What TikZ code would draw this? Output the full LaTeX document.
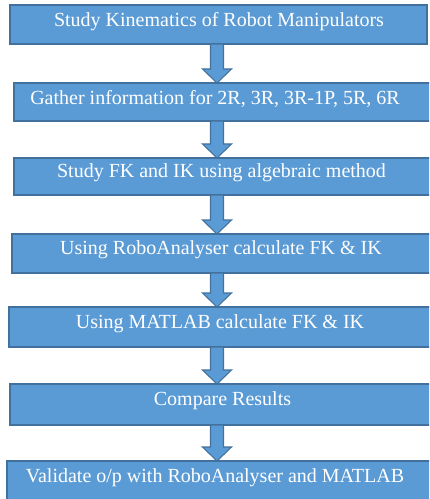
\documentclass[tikz,border=0pt]{standalone}
\usepackage{fontspec}
\setmainfont{Liberation Serif}
\usetikzlibrary{fit,calc}
\definecolor{boxfill}{HTML}{5B9BD5}
\definecolor{boxline}{HTML}{41719C}
\tikzset{
  box/.style={draw=boxline, fill=boxfill, line width=0.8pt, inner sep=0pt, outer sep=0pt},
  boxtext/.style={text=white, anchor=base, inner sep=0pt, font=\fontsize{15}{18}\selectfont},
  barrow/.style={draw=boxline, fill=boxfill, line width=0.8pt, line join=miter}
}
\newcommand{\blockarrow}[2]{%
  \draw[barrow] let \p1=($(#1.south -| ax)$), \p2=($(#2.north -| ax)$) in
    (\x1-4.875pt,\y1) -- (\x1-4.875pt,\y2+10.5pt) -- (\x1-10.875pt,\y2+10.5pt) -- (\x1,\y2)
    -- (\x1+10.875pt,\y2+10.5pt) -- (\x1+4.875pt,\y2+10.5pt) -- (\x1+4.875pt,\y1) -- cycle;}
\begin{document}
\begin{tikzpicture}[x=0.75pt,y=-0.75pt]
\useasboundingbox (0,0) rectangle (429,499);
\clip (0,0) rectangle (429,499);
\fill[white] (0,0) rectangle (429,499);
\coordinate (ax) at (217,0);
\node[box, fit={(10,5) (427,44)}] (b1) {};
\node[box, fit={(14,83) (432,121)}] (b2) {};
\node[box, fit={(14,158) (432,195)}] (b3) {};
\node[box, fit={(12,234) (432,273)}] (b4) {};
\node[box, fit={(9,307) (432,347)}] (b5) {};
\node[box, fit={(10,384) (432,425)}] (b6) {};
\node[box, fit={(7,461) (432,505)}] (b7) {};
\node[boxtext] (t1) at (219,27) {Study Kinematics of Robot Manipulators};
\node[boxtext] (t2) at (215,105) {Gather information for 2R, 3R, 3R-1P, 5R, 6R};
\node[boxtext] (t3) at (221.5,177) {Study FK and IK using algebraic method};
\node[boxtext] (t4) at (221,254) {Using RoboAnalyser calculate FK \& IK};
\node[boxtext] (t5) at (220,328) {Using MATLAB calculate FK \& IK};
\node[boxtext] (t6) at (222.5,405) {Compare Results};
\node[boxtext] (t7) at (215,482) {Validate o/p with RoboAnalyser and MATLAB};
\blockarrow{b1}{b2}
\blockarrow{b2}{b3}
\blockarrow{b3}{b4}
\blockarrow{b4}{b5}
\blockarrow{b5}{b6}
\blockarrow{b6}{b7}
\end{tikzpicture}
\end{document}
